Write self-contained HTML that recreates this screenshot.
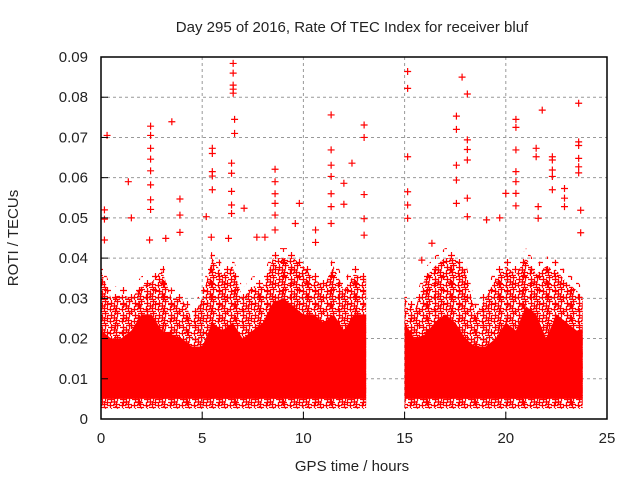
<!DOCTYPE html>
<html><head><meta charset="utf-8"><style>
body{margin:0;background:#fff}
svg{display:block;font-family:"Liberation Sans",sans-serif;font-size:15px;fill:#222}
</style></head><body>
<svg id="chart" width="640" height="480" viewBox="0 0 640 480">
<defs>
<pattern id="pp" width="12" height="12" patternUnits="userSpaceOnUse">
<path d="M0 3.5H7M3.5 0V7 M5 8.5H12M8.5 5V12 M6 1.5H13M9.5 -2V5 M-1 9.5H6M2.5 6V13 M3 6H10M6.5 2.5V9.5 M-6 1.5H1M-2.5 -2V5 M-6 8.5H0M11 9.5H18 M5 -3.5H12 M5 11.5H12" stroke="#f00" stroke-width="1.3"/>
</pattern>
<pattern id="ps" width="16" height="14" patternUnits="userSpaceOnUse">
<path d="M0 3.5H7M3.5 0V7 M8 10.5H15M11.5 7V14" stroke="#f00" stroke-width="1.2"/>
</pattern>
</defs>
<text x="352" y="32" text-anchor="middle">Day 295 of 2016, Rate Of TEC Index for receiver bluf</text>
<text transform="translate(18,238) rotate(-90)" text-anchor="middle">ROTI / TECUs</text>
<text x="352" y="471" text-anchor="middle">GPS time / hours</text>
<g id="grid"></g>
<g id="marks"></g>
<rect x="101" y="57" width="506" height="362" fill="none" stroke="#000" stroke-width="1.5"/>
<g id="ticks"></g>
</svg>
<script>
const xTicks=[0,5,10,15,20,25];
const yTicks=[0,0.01,0.02,0.03,0.04,0.05,0.06,0.07,0.08,0.09];
const yTickLabels=["0","0.01","0.02","0.03","0.04","0.05","0.06","0.07","0.08","0.09"];
const seg1Hours=[0,0.5,1,1.5,2,2.5,3,3.5,4,4.5,5,5.5,6,6.5,7,7.5,8,8.5,9,9.5,10,10.5,11,11.5,12,12.5,13.1];
const seg1Solid=[0.022,0.02,0.02,0.022,0.026,0.026,0.022,0.021,0.02,0.018,0.018,0.024,0.022,0.024,0.02,0.022,0.024,0.029,0.03,0.028,0.026,0.026,0.024,0.026,0.022,0.026,0.026];
const seg1Cloud=[0.037,0.03,0.031,0.03,0.033,0.034,0.037,0.03,0.03,0.025,0.03,0.04,0.036,0.038,0.03,0.033,0.033,0.04,0.04,0.04,0.038,0.035,0.033,0.038,0.032,0.036,0.035];
const seg2Hours=[15,15.5,16,16.5,17,17.5,18,18.5,19,19.5,20,20.5,21,21.5,22,22.5,23,23.5,23.8];
const seg2Solid=[0.024,0.02,0.021,0.024,0.026,0.024,0.02,0.018,0.018,0.02,0.024,0.022,0.028,0.026,0.02,0.026,0.024,0.022,0.022];
const seg2Cloud=[0.03,0.027,0.035,0.038,0.04,0.04,0.037,0.026,0.03,0.035,0.038,0.036,0.04,0.036,0.038,0.037,0.034,0.032,0.03];
const bandBottom=0.005;
const outHours=[6.53,6.53,6.53,6.53,6.53,6.6,6.6,0.3,2.45,2.45,2.45,2.45,2.45,2.45,2.45,2.45,3.5,1.35,1.5,0.17,0.17,0.17,3.9,3.9,3.9,5.5,5.5,5.5,5.5,5.5,5.2,6.45,6.45,6.45,6.45,6.45,7.07,8.6,8.6,8.6,8.6,8.6,8.6,9.8,11.37,11.37,11.37,11.37,11.37,11.37,11.37,12.4,12.0,12.0,13.0,13.0,13.0,13.0,13.0,7.7,8.1,9.6,10.6,10.6,3.2,2.4,5.45,6.3,
15.15,15.15,15.15,15.15,15.15,15.15,17.84,18.1,17.56,17.56,17.56,17.56,17.56,18.1,18.1,18.1,18.1,18.1,20.5,20.5,20.5,20.5,20.5,20.5,20.5,21.8,21.5,21.5,22.3,22.3,22.3,22.3,22.3,23.6,23.6,23.6,23.6,23.6,23.6,22.9,22.9,22.9,23.7,23.7,19.05,19.7,20.0,21.6,21.6,15.85,16.35];
const outValues=[0.0884,0.086,0.083,0.082,0.081,0.0745,0.071,0.0705,0.0728,0.0705,0.0673,0.0646,0.0617,0.0582,0.0545,0.0521,0.0739,0.059,0.05,0.052,0.0497,0.0445,0.0547,0.0507,0.0464,0.0673,0.066,0.0615,0.0604,0.057,0.0503,0.0636,0.0611,0.0566,0.0532,0.0511,0.0524,0.0621,0.059,0.056,0.0536,0.0507,0.047,0.0536,0.0756,0.0669,0.0631,0.0603,0.056,0.0528,0.0486,0.0636,0.0586,0.0534,0.0731,0.07,0.0558,0.0498,0.0457,0.0452,0.0452,0.0486,0.047,0.0439,0.0449,0.0445,0.0452,0.0449,
0.0864,0.0822,0.0652,0.0565,0.0532,0.0499,0.085,0.0808,0.0753,0.072,0.0631,0.0594,0.0536,0.0694,0.067,0.0644,0.0549,0.0503,0.0745,0.0725,0.0669,0.0615,0.059,0.0561,0.053,0.0768,0.0673,0.0652,0.0652,0.0644,0.0619,0.0603,0.057,0.0785,0.0689,0.068,0.0648,0.0627,0.0612,0.0573,0.0549,0.0528,0.0519,0.0463,0.0495,0.05,0.0561,0.0528,0.0499,0.0395,0.0437];
const NS='http://www.w3.org/2000/svg';
const X=h=>101+h*(506/25), Y=v=>419-v*(362/0.09);
function mk(t,a,p){const e=document.createElementNS(NS,t);for(const k in a)e.setAttribute(k,a[k]);p.appendChild(e);return e;}
const grid=document.getElementById('grid'),marks=document.getElementById('marks'),ticks=document.getElementById('ticks');
xTicks.forEach(t=>{
 if(t>0&&t<25){const l=mk('line',{x1:X(t),x2:X(t),y1:57,y2:419,stroke:'#999','stroke-dasharray':'3,3'},grid);
 
 }
 const s=mk('line',{x1:X(t),x2:X(t),y1:419,y2:412,stroke:'#000'},ticks);
 
 
 const tx=mk('text',{x:X(t),y:443,'text-anchor':'middle'},ticks);tx.textContent=t;
 
 
});
yTicks.forEach((t,i)=>{
 if(t>0&&t<0.09){const l=mk('line',{x1:101,x2:607,y1:Y(t),y2:Y(t),stroke:'#999','stroke-dasharray':'3,3'},grid);
 
 }
 const s=mk('line',{x1:101,x2:108,y1:Y(t),y2:Y(t),stroke:'#000'},ticks);
 
 
 const tx=mk('text',{x:88,y:Y(t)+5,'text-anchor':'end'},ticks);tx.textContent=yTickLabels[i];
 
 
});
function band(hours,solid,cloud,name){
 const bot=Y(bandBottom);
 const x0=X(hours[0]),x1=X(hours[hours.length-1]);
 let ext=hours.map((h,i)=>X(h)+','+(Y(cloud[i])-10)).join(' ');
 const e=mk('polygon',{points:x0+','+(bot+8)+' '+ext+' '+x1+','+(bot+8),fill:'url(#ps)'},marks);
 
 
 let top=hours.map((h,i)=>X(h)+','+Y(cloud[i])).join(' ');
 const c=mk('polygon',{points:x0+','+(bot+10)+' '+top+' '+x1+','+(bot+10),fill:'url(#pp)'},marks);
 
 
 let st=hours.map((h,i)=>X(h)+','+Y(solid[i])).join(' ');
 const s=mk('polygon',{points:x0+','+bot+' '+st+' '+x1+','+bot,fill:'#f00'},marks);
 
 
}
band(seg1Hours,seg1Solid,seg1Cloud,'segment-1');
band(seg2Hours,seg2Solid,seg2Cloud,'segment-2');
outHours.forEach((h,i)=>{
 const x=X(h),y=Y(outValues[i]);
 const p=mk('path',{d:`M${x-3.5} ${y}H${x+3.5}M${x} ${y-3.5}V${y+3.5}`,stroke:'#f00','stroke-width':1.2},marks);
 
 
});
</script>
</body></html>
